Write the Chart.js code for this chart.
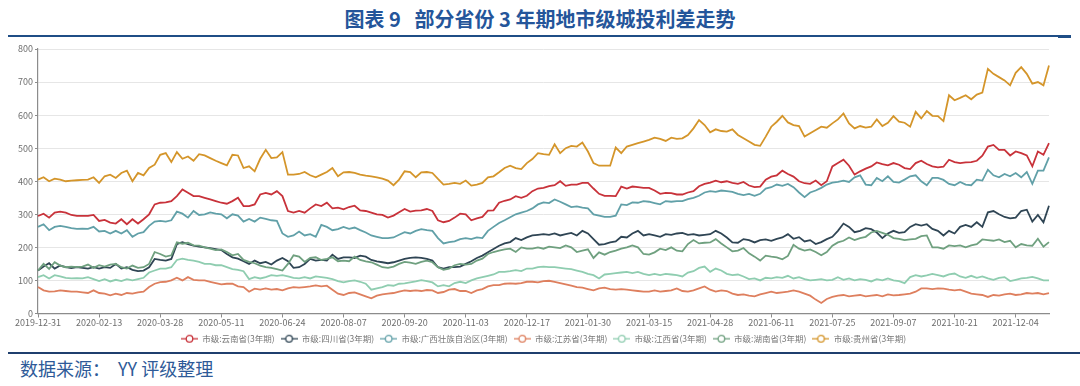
<!DOCTYPE html>
<html>
<head>
<meta charset="utf-8">
<script src="https://cdn.jsdelivr.net/npm/chart.js@4.4.0/dist/chart.umd.min.js"></script>
<style>
html,body{margin:0;padding:0;background:#fff;width:1080px;height:386px;overflow:hidden;font-family:"Noto Sans CJK SC","Noto Sans",sans-serif}
#title{position:absolute;left:0;top:7px;width:1080px;text-align:center;font-size:20px;font-weight:bold;color:#24559a;white-space:pre;line-height:24px}
#tline{position:absolute;left:8px;top:35px;width:1050px;height:2px;background:#1f4e86}
#tline2{position:absolute;left:1058px;top:35px;width:13px;height:3px;background:#1f4e86}
#wrap{position:absolute;left:0;top:40px;width:1080px;height:313px}
#bline{position:absolute;left:8px;top:352px;width:1072px;height:2px;background:#1f3f6e}
#src{position:absolute;left:20px;top:356px;font-size:18px;color:#2e5a98;white-space:pre;line-height:24px}
</style>
</head>
<body>
<div id="title">图表 9   部分省份 3 年期地市级城投利差走势</div>
<div id="tline"></div><div id="tline2"></div>
<div id="wrap"><canvas id="c"></canvas></div>
<div id="bline"></div>
<div id="src">数据来源：  YY 评级整理</div>
<script>
// Category axis: one point every 4 days starting 2019-12-31; a tick label every 11 points (44 days)
const START_DATE = '2019-12-31';
const STEP_DAYS = 4;
const TICK_EVERY = 11;
const TICK_LABELS = ['2019-12-31','2020-02-13','2020-03-28','2020-05-11','2020-06-24','2020-08-07','2020-09-20','2020-11-03','2020-12-17','2021-01-30','2021-03-15','2021-04-28','2021-06-11','2021-07-25','2021-09-07','2021-10-21','2021-12-04'];
const SERIES_NAMES = ['市级:云南省(3年期)','市级:四川省(3年期)','市级:广西壮族自治区(3年期)','市级:江苏省(3年期)','市级:江西省(3年期)','市级:湖南省(3年期)','市级:贵州省(3年期)'];
const SERIES_COLORS = ['#c8323a','#2f4554','#61a0a8','#de7f5e','#8fcdb0','#6fa07f','#d4952a'];

const yunnan = [
295,302,290,305,308,305,298,295,295,295,298,
280,283,275,272,285,270,285,272,285,300,330,
335,336,340,355,375,365,355,355,350,345,340,
335,332,340,350,325,325,330,360,365,360,370,
355,310,305,310,305,318,330,325,335,318,320,
315,322,326,312,310,305,300,298,290,296,306,
316,308,311,312,316,310,282,276,280,290,302,
300,282,288,292,311,312,335,341,345,355,350,
356,370,378,380,385,388,400,386,390,390,395,
395,378,362,356,356,355,384,378,384,382,380,
380,372,362,365,364,360,360,366,370,385,392,
396,402,397,400,395,392,398,387,382,384,405,
414,418,432,422,414,400,394,392,402,388,400,
445,455,465,447,420,430,438,445,457,452,448,
455,450,440,437,455,462,452,445,442,444,465,
458,455,457,458,462,477,505,510,495,495,478,
490,485,478,445,490,480,515];

const sichuan = [
130,142,152,136,145,140,137,140,138,136,140,
136,140,138,150,136,140,132,128,130,140,165,
162,160,165,210,216,210,205,202,200,198,195,
192,180,170,166,158,150,160,152,156,148,160,
168,158,138,140,150,165,160,162,160,178,165,
170,170,168,175,172,162,158,155,152,155,160,
165,168,170,168,165,160,140,136,140,140,142,
150,158,168,175,185,195,205,212,216,228,222,
230,236,238,240,238,242,236,240,244,236,250,
242,225,208,210,215,218,232,230,242,250,236,
240,236,232,240,238,242,244,238,240,236,238,
240,250,242,230,215,214,225,222,215,222,224,
220,226,230,240,226,231,218,222,210,216,225,
232,250,272,262,246,250,258,255,245,228,242,
250,244,246,262,270,266,270,256,250,236,250,
242,262,268,262,276,262,306,310,300,292,288,
290,310,314,278,298,276,326];

const guangxi = [
262,270,252,262,265,262,258,256,257,256,262,
248,250,242,250,242,252,232,242,246,265,278,
280,278,282,308,302,290,310,298,300,306,302,
300,288,300,296,278,286,278,290,286,282,280,
242,232,236,248,236,240,232,268,262,252,255,
262,256,260,252,245,236,232,228,228,230,238,
246,242,250,255,252,250,228,212,216,218,225,
228,225,230,228,250,262,274,282,291,300,305,
310,318,330,336,334,345,338,330,322,324,320,
318,300,296,292,292,296,330,328,336,335,340,
338,334,330,340,338,340,340,346,350,356,366,
370,368,372,370,368,362,358,362,356,362,378,
382,390,386,392,382,366,352,366,372,380,390,
396,398,402,398,412,418,390,388,410,400,415,
398,396,405,415,418,400,388,410,410,404,392,
388,398,390,388,405,402,435,418,412,422,415,
425,412,428,392,432,432,472];

const jiangsu = [
80,70,66,67,70,68,66,66,64,62,70,
62,60,55,60,56,62,60,64,66,80,90,
95,96,100,108,100,110,102,100,100,96,92,
88,90,90,82,80,66,75,72,76,72,74,
70,76,80,78,80,82,85,82,84,72,60,
56,62,64,58,52,46,54,58,60,62,66,
70,68,70,68,71,70,62,65,72,74,68,
68,62,70,74,82,86,86,90,91,90,92,
96,96,94,98,99,96,92,88,84,80,78,
74,70,76,78,74,72,74,72,70,68,66,
66,70,66,68,70,76,68,66,70,76,82,
72,66,70,68,60,56,58,54,52,58,62,
66,62,64,66,70,66,60,54,42,32,44,
50,54,56,52,54,56,52,54,56,52,58,
55,56,58,60,66,76,76,74,76,75,72,
70,72,66,60,58,56,50,56,54,58,60,
56,58,62,60,62,58,62];

const jiangxi = [
110,116,106,116,112,108,106,107,106,110,104,
98,104,97,102,98,104,100,104,108,124,130,
136,136,140,162,166,162,160,156,150,150,146,
146,140,134,132,128,104,110,106,110,116,114,
116,112,108,106,110,106,112,110,108,104,98,
94,98,100,96,90,72,76,80,86,84,90,
91,94,97,101,98,94,82,86,82,92,96,
92,100,106,110,114,118,126,126,128,131,128,
136,136,140,142,140,140,138,136,134,130,126,
120,116,106,118,120,122,124,126,122,126,120,
116,120,116,120,118,116,112,124,128,138,142,
126,136,130,120,116,118,112,104,106,100,108,
106,110,108,114,106,110,104,100,102,104,100,
102,110,102,106,100,104,102,97,104,100,106,
100,98,92,110,116,112,115,120,116,112,118,
121,112,108,114,108,112,106,102,108,110,98,
102,106,108,111,106,100,100];

const hunan = [
130,150,135,155,145,140,142,140,142,148,138,
146,142,148,150,140,136,145,138,140,150,186,
180,172,176,215,211,214,206,205,200,196,192,
194,186,176,180,162,156,152,145,140,138,134,
130,150,176,172,156,168,170,162,165,170,158,
160,158,172,162,158,155,148,140,138,142,150,
156,154,150,156,160,155,140,132,136,146,150,
148,150,160,166,180,186,190,194,196,186,200,
196,196,200,196,202,200,198,206,200,186,190,
194,168,185,178,186,190,196,200,206,200,180,
178,185,196,192,200,190,188,210,222,212,214,
215,225,212,200,188,190,198,182,172,160,175,
172,170,164,174,208,196,190,194,186,176,186,
205,215,220,230,222,228,232,245,250,244,238,
228,226,222,224,226,234,236,200,200,196,206,
204,206,200,206,210,224,222,220,224,216,220,
200,210,206,205,226,202,216];

const guizhou = [
405,412,400,408,405,400,402,403,404,405,412,
395,415,420,410,425,432,400,425,418,440,450,
480,485,458,488,468,475,462,482,478,470,462,
455,448,480,478,440,445,430,468,495,470,472,
488,420,420,422,428,418,412,420,428,440,415,
427,428,425,420,417,415,412,408,402,388,405,
430,428,412,427,428,425,407,390,392,395,392,
402,387,390,395,412,415,427,440,447,440,437,
455,467,485,482,480,512,485,500,507,505,517,
490,455,447,447,447,502,485,505,510,515,520,
525,532,528,522,532,528,530,540,560,585,570,
548,557,552,550,557,540,530,520,510,507,535,
565,580,598,578,570,567,535,545,555,565,562,
575,587,605,575,560,567,562,565,587,567,577,
597,580,577,565,610,590,612,598,597,582,660,
645,652,660,648,662,668,740,725,715,705,690,
728,745,725,695,700,690,750];

const SERIES_VALUES = [yunnan, sichuan, guangxi, jiangsu, jiangxi, hunan, guizhou];

// category labels (dates)
const categories = [];
(function(){
  const d0 = new Date(START_DATE + 'T00:00:00Z');
  for (let i = 0; i < yunnan.length; i++) {
    const d = new Date(d0.getTime() + i * STEP_DAYS * 86400000);
    categories.push(d.toISOString().slice(0,10));
  }
})();

function legendIcon(color){
  const c = document.createElement('canvas');
  c.width = 17; c.height = 10;
  const g = c.getContext('2d');
  g.strokeStyle = color; g.lineWidth = 1.3;
  g.beginPath(); g.moveTo(0,5); g.lineTo(17,5); g.stroke();
  g.beginPath(); g.arc(8.5,5,3.3,0,Math.PI*2);
  g.fillStyle = '#fff'; g.fill(); g.stroke();
  return c;
}
const icons = SERIES_COLORS.map(legendIcon);

const datasets = SERIES_NAMES.map((n,i)=>({
  label: n,
  data: SERIES_VALUES[i],
  borderColor: SERIES_COLORS[i],
  backgroundColor: SERIES_COLORS[i],
  borderWidth: 1.8,
  pointRadius: 0,
  tension: 0,
  fill: false,
  order: SERIES_NAMES.length - i
}));

const FONT = '"Noto Sans CJK SC","Noto Sans",sans-serif';

// shift the legend block horizontally so it is centred like the reference
const legendShift = {
  id: 'legendShift',
  afterLayout(chart){
    const lg = chart.legend;
    if (lg) { lg.left += 19; lg.right += 19; }
  }
};

new Chart(document.getElementById('c'), {
  type: 'line',
  data: { labels: categories, datasets },
  plugins: [legendShift],
  options: {
    responsive: true,
    maintainAspectRatio: false,
    animation: false,
    layout: { padding: { top: 9, right: 31, left: 0, bottom: 0 } },
    plugins: {
      tooltip: { enabled: false },
      legend: {
        position: 'bottom',
        labels: {
          usePointStyle: true,
          pointStyleWidth: 17,
          padding: 6,
          color: '#777',
          font: { family: FONT, size: 8.5 },
          generateLabels(chart){
            return chart.data.datasets.map((ds,i)=>({
              text: ds.label,
              fillStyle: '#fff',
              strokeStyle: SERIES_COLORS[i],
              pointStyle: icons[i],
              lineWidth: 0,
              hidden: false,
              datasetIndex: i,
              fontColor: '#777'
            }));
          }
        }
      }
    },
    scales: {
      x: {
        type: 'category',
        afterFit(s){ s.height = 15; },
        grid: { display: true, drawOnChartArea: false, drawTicks: true, tickLength: 4, color: '#8c8c8c' },
        border: { display: true, color: '#8c8c8c', width: 1.2 },
        ticks: {
          autoSkip: false, maxRotation: 0, minRotation: 0, padding: 0,
          color: '#6e6e6e', font: { family: FONT, size: 9 },
          callback(v, i){ return i % TICK_EVERY === 0 ? TICK_LABELS[i / TICK_EVERY] : null; }
        }
      },
      y: {
        min: 0, max: 800,
        afterFit(s){ s.width = 38; },
        grid: { color: '#e6e6e6', lineWidth: 1, tickColor: '#8c8c8c', tickLength: 3 },
        border: { display: true, color: '#8c8c8c', width: 1.2 },
        ticks: { stepSize: 100, padding: 2, color: '#6e6e6e', font: { family: FONT, size: 9 } }
      }
    }
  }
});
</script>
</body>
</html>
